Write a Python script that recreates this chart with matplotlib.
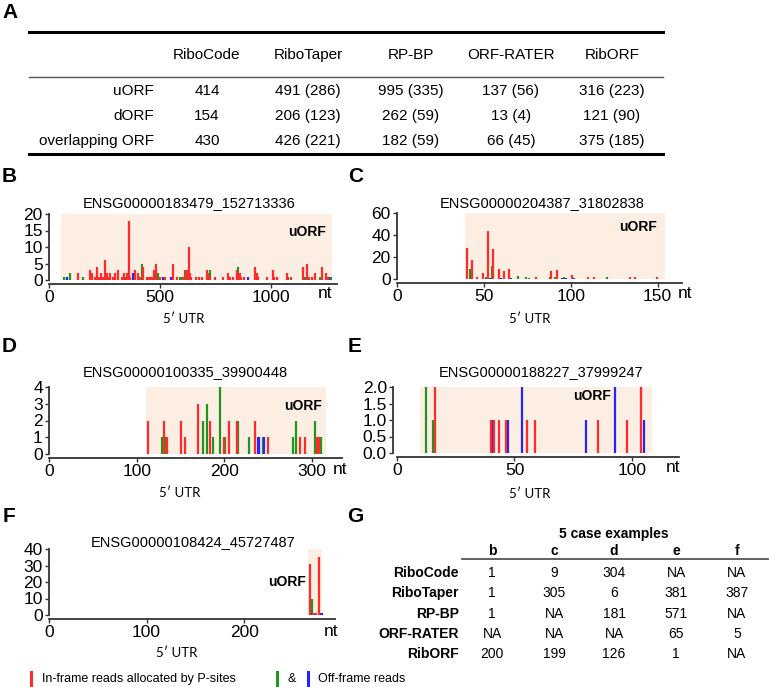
import matplotlib.pyplot as plt
from matplotlib.lines import Line2D
from matplotlib.ticker import FormatStrFormatter

plt.rcParams['font.family'] = ['Liberation Sans', 'DejaVu Sans']

W, H = 769, 687

# ---- panel A table
a_columns = ['RiboCode', 'RiboTaper', 'RP-BP', 'ORF-RATER', 'RibORF']
a_rows = ['uORF', 'dORF', 'overlapping ORF']
a_values = [['414', '491 (286)', '995 (335)', '137 (56)', '316 (223)'],
            ['154', '206 (123)', '262 (59)', '13 (4)', '121 (90)'],
            ['430', '426 (221)', '182 (59)', '66 (45)', '375 (185)']]

# ---- panel G table
g_title = '5 case examples'
g_columns = ['b', 'c', 'd', 'e', 'f']
g_rows = ['RiboCode', 'RiboTaper', 'RP-BP', 'ORF-RATER', 'RibORF']
g_values = [['1', '9', '304', 'NA', 'NA'],
            ['1', '305', '6', '381', '387'],
            ['1', 'NA', '181', '571', 'NA'],
            ['NA', 'NA', 'NA', '65', '5'],
            ['200', '199', '126', '1', 'NA']]

# ---- P-site reads, (position nt, reads)
b_title = 'ENSG00000183479_152713336'
b_uorf = (54, 1275)
b_inframe = [(132, 2), (185, 3), (192, 2), (205, 1), (212, 1), (218, 4), (225, 1), (233, 2), (240, 1),
             (247, 1), (254, 6), (263, 2), (270, 1), (275, 2), (290, 1), (297, 2), (312, 3), (330, 1),
             (338, 2), (350, 2), (360, 18), (367, 1), (389, 3), (402, 2), (410, 1), (422, 4), (440, 1),
             (447, 1), (455, 1), (462, 1), (473, 3), (482, 5), (500, 1), (523, 1), (560, 5), (575, 1),
             (605, 1), (618, 3), (625, 3), (629, 10), (633, 2), (640, 1), (660, 1), (675, 1), (690, 1),
             (710, 3), (718, 2), (725, 1), (747, 1), (784, 1), (807, 2), (815, 1), (830, 1), (845, 2),
             (848, 3), (852, 2), (856, 2), (860, 2), (864, 1), (878, 1), (928, 4), (935, 2), (940, 1),
             (980, 1), (1010, 3), (1015, 1), (1025, 1), (1070, 2), (1092, 1), (1146, 4), (1161, 5),
             (1170, 1), (1183, 1), (1198, 2), (1228, 4), (1248, 2), (1255, 1)]
b_frame2 = [(68, 1), (95, 2), (155, 1), (342, 1), (417, 5), (490, 2), (590, 1), (600, 1), (613, 3),
            (725, 3), (853, 4), (1077, 1), (1153, 1), (1220, 1), (1268, 1)]
b_frame3 = [(80, 1), (380, 2), (515, 1), (548, 1), (898, 1), (1263, 1)]

c_title = 'ENSG00000204387_31802838'
c_uorf = (39, 154)
c_inframe = [(40.3, 28), (43.2, 17), (46, 1.5), (49.4, 5.4), (52.3, 44), (55.4, 27), (58.7, 9),
             (61.6, 7), (64.5, 9), (80, 2), (88.8, 7), (92, 8.4), (100.8, 4), (110, 1.5), (113.4, 2),
             (134.3, 2), (137, 2), (149.8, 2)]
c_frame2 = [(42, 9), (51.4, 1.5), (54.5, 12), (69.8, 3), (74.2, 1.5), (75.8, 1), (87.8, 1.5),
            (90.7, 1.5), (96, 1.5), (121, 1.5)]
c_frame3 = [(53.5, 1), (59.7, 1), (65.5, 1), (95, 1), (97, 1), (102, 1)]

d_title = 'ENSG00000100335_39900448'
d_uorf = (111, 316)
d_inframe = [(112.5, 2), (131, 2), (134, 1), (151, 2), (155, 1), (170, 3), (184, 2), (199.6, 1),
             (205, 2), (214, 2), (235, 2), (250, 1), (286, 1), (292, 1), (305, 1), (308, 1)]
d_frame2 = [(129, 1), (132, 1), (175, 2), (180.6, 3), (186.7, 1), (195, 4), (201, 1), (216, 2),
            (228.5, 1), (244.5, 1), (278.7, 1), (281.7, 2), (303, 2), (310, 1)]
d_frame3 = [(238, 1), (239.5, 1), (245.6, 1)]

e_title = 'ENSG00000188227_37999247'
e_uorf = (9.6, 108.7)
e_inframe = [(16, 2), (40, 1), (41.3, 1), (43.3, 1), (46.5, 1), (55.5, 1), (58.6, 1), (85.5, 1),
             (97.7, 1), (103.7, 2)]
e_frame2 = [(12.2, 2), (15.3, 1)]
e_frame3 = [(40.9, 1), (47.2, 1), (53.3, 2), (80.6, 1), (92.6, 2), (105, 1)]

f_title = 'ENSG00000108424_45727487'
f_uorf = (265.5, 280)
f_inframe = [(267, 31), (270.5, 1), (272, 1), (274, 1), (276.5, 35)]
f_frame2 = [(269, 10), (279, 1.5)]
f_frame3 = [(268, 1), (278, 1.5), (280, 1)]

RED = '#FF2B2B'
GREEN = '#1F961F'
BLUE = '#2424FF'
SHADE = '#FDEEE3'
AXC = '#333333'

fig = plt.figure(figsize=(W / 100, H / 100), dpi=100)


def fx(x):
    return x / W


def fy(y):
    return 1 - y / H


def ftext(x, y, s, **kw):
    kw.setdefault('ha', 'center')
    kw.setdefault('va', 'center')
    fig.text(fx(x), fy(y), s, **kw)


def hline(x0, x1, y, lw, color='black'):
    fig.add_artist(Line2D([fx(x0), fx(x1)], [fy(y), fy(y)], lw=lw, color=color))


def coverage_panel(box, xlim, ylim, xticks, yticks, uorf, inframe, frame2, frame3, yfmt=None):
    left, top, right, bottom = box
    ax = fig.add_axes([fx(left), fy(bottom), (right - left) / W, (bottom - top) / H])
    ax.axvspan(uorf[0], uorf[1], color=SHADE, lw=0, zorder=0)
    for bars, col in ((frame2, GREEN), (frame3, BLUE), (inframe, RED)):
        x, h = zip(*bars)
        ax.vlines(x, 0, h, color=col, lw=1.6, zorder=2)
    ax.set_xlim(*xlim)
    ax.set_ylim(*ylim)
    ax.set_xticks(xticks)
    ax.set_yticks(yticks)
    if yfmt:
        ax.yaxis.set_major_formatter(FormatStrFormatter(yfmt))
    ax.patch.set_alpha(0)
    for s in ('top', 'right'):
        ax.spines[s].set_visible(False)
    ax.spines['left'].set_bounds(ylim[0], ylim[1])
    ax.spines['bottom'].set_bounds(0, xlim[1])
    ax.spines['bottom'].set_position(('outward', 3))
    for s in ('left', 'bottom'):
        ax.spines[s].set_color(AXC)
        ax.spines[s].set_linewidth(1.3)
    ax.tick_params(length=3, width=1, color=AXC, labelsize=12.5, pad=1.5)
    return ax


# ---- panel letters
for letter, (x, y) in zip('ABCDEFG', [(10, 12), (9, 176), (356, 176), (9, 346), (355, 346),
                                       (9, 517), (355, 517)]):
    ftext(x, y, letter, fontsize=15, fontweight='bold')

# ---- table A
hline(29, 663, 32, 2.2)
hline(29, 663, 77, 1.0, '#555555')
hline(29, 663, 154, 2.2)
a_xc = [207, 308, 411, 511, 612]
a_yr = [91, 116, 141]
for name, x in zip(a_columns, a_xc):
    ftext(x, 55, name, fontsize=11)
for r, (name, y) in enumerate(zip(a_rows, a_yr)):
    ftext(154, y, name, fontsize=11, ha='right')
    for val, x in zip(a_values[r], a_xc):
        ftext(x, y, val, fontsize=11)

# ---- coverage panels
panels = [
    ((49, 214, 337, 280), (0, 1297), (0, 20), [0, 500, 1000], [0, 5, 10, 15, 20], b_uorf,
     b_inframe, b_frame2, b_frame3, None, b_title, (189, 203), (307, 232), (184, 319), (325, 294)),
    ((397, 213, 682, 279), (0, 164), (0, 60), [0, 50, 100, 150], [0, 20, 40, 60], c_uorf,
     c_inframe, c_frame2, c_frame3, None, c_title, (542, 203), (638, 227), (530, 319), (685, 294)),
    ((49, 387, 342, 454), (0, 334), (0, 4), [0, 100, 200, 300], [0, 1, 2, 3, 4], d_uorf,
     d_inframe, d_frame2, d_frame3, None, d_title, (185, 372), (303, 406), (180, 493), (340, 469)),
    ((393, 387, 679, 453), (-1.7, 120), (0, 2), [0, 50, 100], [0, 0.5, 1, 1.5, 2], e_uorf,
     e_inframe, e_frame2, e_frame3, '%.1f', e_title, (541, 372), (592, 396), (530, 494), (673, 468)),
    ((49, 549, 335, 615), (0, 293), (0, 40), [0, 100, 200], [0, 10, 20, 30, 40], f_uorf,
     f_inframe, f_frame2, f_frame3, None, f_title, (193, 542), (287, 582), (177, 653), (331, 631)),
]
for (box, xlim, ylim, xt, yt, uorf, inf, fr2, fr3, yfmt, title, title_xy, uorf_xy, utr_xy,
     nt_xy) in panels:
    coverage_panel(box, xlim, ylim, xt, yt, uorf, inf, fr2, fr3, yfmt)
    ftext(*title_xy, title, fontsize=10.5)
    ftext(*uorf_xy, 'uORF', fontsize=10, fontweight='bold')
    ftext(*utr_xy, '5\u2032 UTR', fontsize=9.5, family=['Lato', 'DejaVu Sans'])
    ftext(*nt_xy, 'nt', fontsize=12.5)

# ---- legend
for x, col in ((31, RED), (277, GREEN), (308, BLUE)):
    fig.add_artist(Line2D([fx(x), fx(x)], [fy(685), fy(672)], lw=2.2, color=col))
ftext(42, 679, 'In-frame reads allocated by P-sites', fontsize=9, ha='left')
ftext(292, 679, '&', fontsize=9)
ftext(318, 679, 'Off-frame reads', fontsize=9, ha='left')

# ---- table G
ftext(614, 534, g_title, fontsize=10, fontweight='bold')
g_xc = [492, 554, 614, 676, 737]
g_yr = [573, 593, 614, 634, 654]
for name, x in zip(g_columns, g_xc):
    ftext(x, 551, name, fontsize=10, fontweight='bold')
hline(462, 768, 559, 1.3, '#555555')
for r, (name, y) in enumerate(zip(g_rows, g_yr)):
    ftext(459, y, name, fontsize=10, fontweight='bold', ha='right')
    for val, x in zip(g_values[r], g_xc):
        ftext(x, y, val, fontsize=10)

fig.savefig('out.png', dpi=100)
